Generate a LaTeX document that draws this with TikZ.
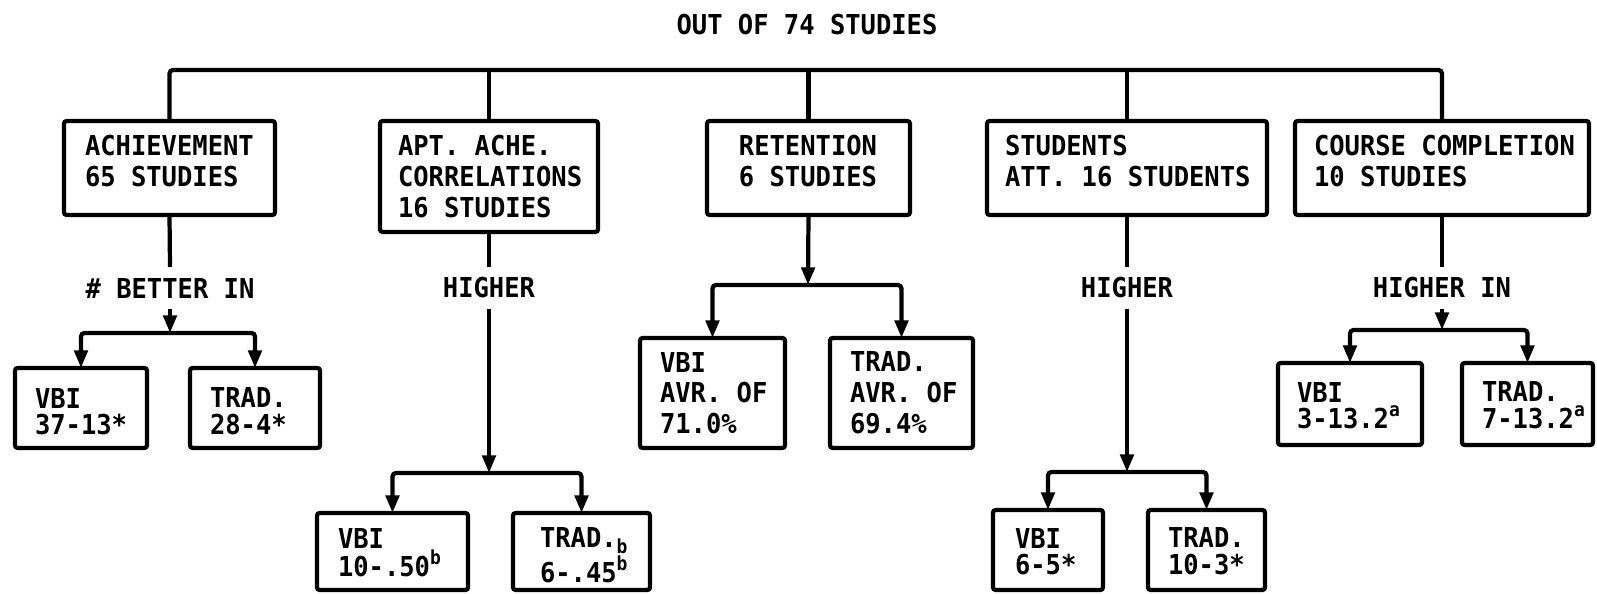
\documentclass[tikz,border=0pt]{standalone}
\usepackage{fontspec}
\newfontfamily\diagfont{DejaVu Sans Mono}[FakeStretch=0.93]
\usetikzlibrary{arrows.meta}
\newcommand\supx[1]{\raisebox{7pt}{\fontsize{11}{11}\selectfont #1}}
\newcommand\subx[1]{\raisebox{-3.2pt}{\fontsize{11}{11}\selectfont #1}}
\newcommand\mkbox[5]{\node[boxst, minimum width={(#4-#2)*0.02cm}, minimum height={(#5-#3)*0.02cm}] (#1) at (#2,#3) {};}
\tikzset{
  boxst/.style={draw, line width=2.4pt, rounded corners=1.5pt, anchor=north west, inner sep=0pt, outer sep=0pt},
  txt/.style={anchor=north west, inner sep=0pt, outer sep=0pt, align=left},
  txs/.style={txt, font=\diagfont\bfseries\fontsize{15.6}{15.3}\selectfont},
  conn/.style={line width=2.4pt, rounded corners=2pt},
  arr/.style={conn, -{Triangle[length=10pt,width=7.5pt]}},
  lab/.style={inner sep=0pt, outer sep=0pt, minimum height=0.84cm}
}
\begin{document}
\begin{tikzpicture}[x=0.02cm, y=-0.02cm, font=\diagfont\bfseries\fontsize{15.6}{17.6}\selectfont]
\useasboundingbox (0,0) rectangle (1597,594);

\node[anchor=north, inner sep=0pt] (title) at (807,14) {OUT OF 74 STUDIES};
\coordinate (topL) at (0,70);

% top row
\mkbox{ach}{64}{121}{275}{215}
\mkbox{apt}{380}{121}{598}{232}
\mkbox{ret}{707}{121}{910}{215}
\mkbox{stu}{987}{121}{1267}{215}
\mkbox{cou}{1295}{121}{1589}{215}
\node[txt] (achX) at (85,135) {ACHIEVEMENT\\65 STUDIES};
\node[txt] (aptX) at (398,135) {APT. ACHE.\\CORRELATIONS\\16 STUDIES};
\node[txt, anchor=north] (retX) at (808,135) {RETENTION\\6 STUDIES};
\node[txt] (stuX) at (1005,135) {STUDENTS\\ATT. 16 STUDENTS};
\node[txt] (couX) at (1314,135) {COURSE COMPLETION\\10 STUDIES};

% bottom boxes
\mkbox{achV}{15}{368}{147}{448}
\mkbox{achT}{190}{368}{320}{448}
\mkbox{aptV}{317}{513}{468}{590}
\mkbox{aptT}{513}{513}{650}{590}
\mkbox{retV}{640}{338}{785}{448}
\mkbox{retT}{830}{338}{973}{448}
\mkbox{stuV}{993}{510}{1103}{590}
\mkbox{stuT}{1148}{510}{1265}{590}
\mkbox{couV}{1278}{363}{1422}{445}
\mkbox{couT}{1462}{363}{1593}{445}
\node[txs] (achVX) at (35,388) {VBI\\37-13*};
\node[txs] (achTX) at (210,388) {TRAD.\\28-4*};
\node[txs] (aptVX) at (338,528) {VBI\\10-.50\supx{b}};
\node[txs] (aptTX) at (540,528) {TRAD.\subx{b}\\6-.45\supx{b}};
\node[txt] (retVX) at (660,352) {VBI\\AVR. OF\\71.0\%};
\node[txt] (retTX) at (850,352) {TRAD.\\AVR. OF\\69.4\%};
\node[txs] (stuVX) at (1015,528) {VBI\\6-5*};
\node[txs] (stuTX) at (1168,528) {TRAD.\\10-3*};
\node[txs] (couVX) at (1297,382) {VBI\\3-13.2\supx{a}};
\node[txs] (couTX) at (1482,382) {TRAD.\\7-13.2\supx{a}};

% labels
\node[lab] (achL) at (170,288) {\# BETTER IN};
\node[lab] (aptL) at (489,288) {HIGHER};
\node[lab] (stuL) at (1127,288) {HIGHER};
\node[lab] (couL) at (1442,288) {HIGHER IN};

\coordinate (achH) at (170,333);
\coordinate (aptH) at (489,473);
\coordinate (retH) at (808,285);
\coordinate (stuH) at (1127,472);
\coordinate (couH) at (1442,330);

% top bracket
\draw[conn] (ach.north) |- (cou.north |- topL) -- (cou.north);
\draw[conn] (apt.north) -- (apt.north |- topL);
\draw[conn] (ret.north) -- (ret.north |- topL);
\draw[conn] (stu.north) -- (stu.north |- topL);

% drops
\draw[conn] (ach.south) -- (achL.north);
\draw[arr] (achL.south) -- (achH);
\draw[arr] (achH) -| (achV.north);
\draw[arr] (achH) -| (achT.north);

\draw[conn] (apt.south) -- (aptL.north);
\draw[arr] (aptL.south) -- (aptH);
\draw[arr] (aptH) -| (aptV.north);
\draw[arr] (aptH) -| (aptT.north);

\draw[arr] (ret.south) -- (retH);
\draw[arr] (retH) -| (retV.north);
\draw[arr] (retH) -| (retT.north);

\draw[conn] (stu.south) -- (stuL.north);
\draw[arr] (stuL.south) -- (stuH);
\draw[arr] (stuH) -| (stuV.north);
\draw[arr] (stuH) -| (stuT.north);

\draw[conn] (cou.south) -- (couL.north);
\draw[arr] (couL.south) -- (couH);
\draw[arr] (couH) -| (couV.north);
\draw[arr] (couH) -| (couT.north);
\end{tikzpicture}
\end{document}
